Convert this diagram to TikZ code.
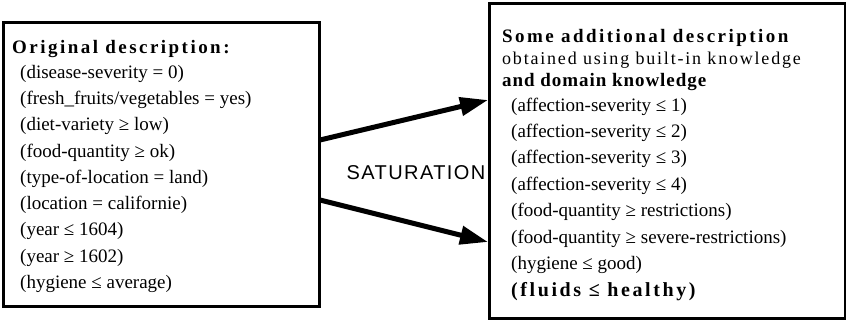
\documentclass[tikz,border=0pt]{standalone}
\usepackage{fontspec}
\setmainfont{Liberation Serif}
\newfontfamily\satfont[LetterSpace=7]{Liberation Sans}
\newfontfamily\boldsp[LetterSpace=13]{Liberation Serif Bold}
\newfontfamily\boldspb[LetterSpace=5]{Liberation Serif Bold}
\newfontfamily\regsp[LetterSpace=10]{Liberation Serif}
\usetikzlibrary{arrows.meta}
\begin{document}
\begin{tikzpicture}[x=1pt,y=-1pt,
  boxst/.style={draw, line width=3pt, inner sep=0pt},
  txt/.style={anchor=base west, inner sep=0pt, font=\fontsize{19}{21}\selectfont},
  btxt/.style={anchor=base west, inner sep=0pt, font=\boldsp\fontsize{19}{21}\selectfont},
  arr/.style={line width=5pt, -{Triangle[length=28pt,width=18pt]}}]
\useasboundingbox (0,0) rectangle (846,322);
% boxes
\node[boxst, minimum width=316pt, minimum height=284pt] (L) at (161,164) {};
\node[boxst, minimum width=356pt, minimum height=315pt] (R) at (667,160.5) {};
% left text
\node[btxt] (l0) at (12,53) {Original description:};
\node[txt] (l1) at (20,78) {(disease-severity = 0)};
\node[txt] (l2) at (20,104) {(fresh\_fruits/vegetables = yes)};
\node[txt] (l3) at (20,130) {(diet-variety ≥ low)};
\node[txt] (l4) at (20,157) {(food-quantity ≥ ok)};
\node[txt] (l5) at (20,183) {(type-of-location = land)};
\node[txt] (l6) at (20,209) {(location = californie)};
\node[txt] (l7) at (20,235) {(year ≤ 1604)};
\node[txt] (l8) at (20,262) {(year ≥ 1602)};
\node[txt] (l9) at (20,288) {(hygiene ≤ average)};
% right text
\node[btxt] (r0) at (502,42) {Some additional description};
\node[txt, font=\regsp\fontsize{18}{20}\selectfont] (r1) at (502,64) {obtained using built-in knowledge};
\node[btxt, font=\boldspb\fontsize{19}{21}\selectfont] (r2) at (502,86) {and domain knowledge};
\node[txt] (r3) at (511,111) {(affection-severity ≤ 1)};
\node[txt] (r4) at (511,137.4) {(affection-severity ≤ 2)};
\node[txt] (r5) at (511,163.8) {(affection-severity ≤ 3)};
\node[txt] (r6) at (511,190.2) {(affection-severity ≤ 4)};
\node[txt] (r7) at (511,216.6) {(food-quantity ≥ restrictions)};
\node[txt] (r8) at (511,243) {(food-quantity ≥ severe-restrictions)};
\node[txt] (r9) at (511,269.4) {(hygiene ≤ good)};
\node[btxt, font=\boldsp\fontsize{20}{22}\selectfont] (r10) at (511,296) {(fluids ≤ healthy)};
% arrows
\coordinate (u0) at (320,140);
\coordinate (u1) at (488,100);
\coordinate (d0) at (320,200);
\coordinate (d1) at (488,242);
\draw[arr] (u0) -- (u1);
\draw[arr] (d0) -- (d1);
\node[inner sep=0pt, font=\satfont\fontsize{20}{22}\selectfont] (sat) at (416,173) {SATURATION};
\end{tikzpicture}
\end{document}
